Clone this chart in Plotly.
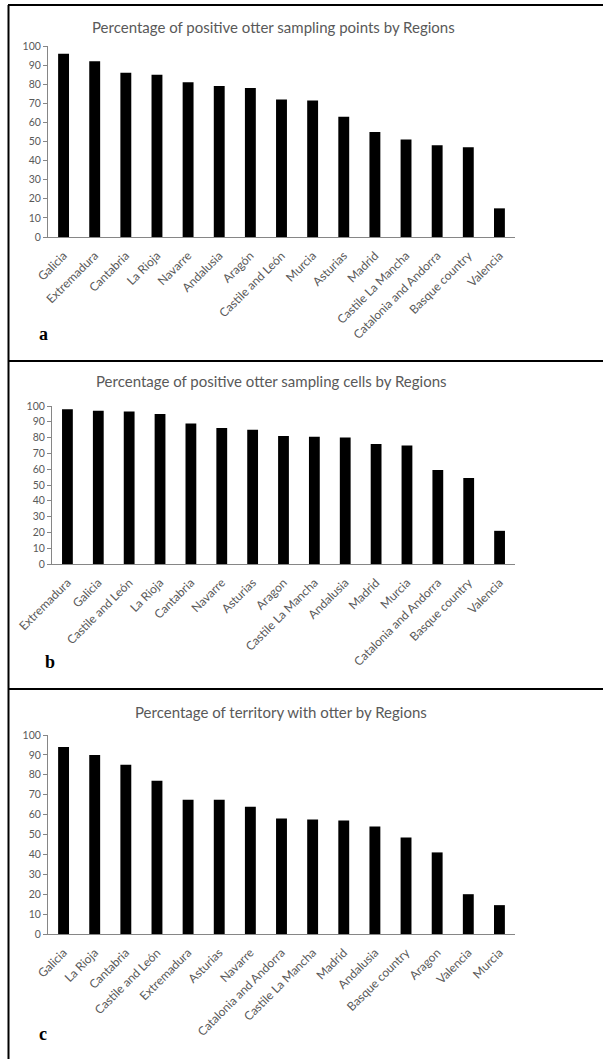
import plotly.graph_objects as go

W, H = 603, 1059

# Panel a: positive sampling points
regions_a = ["Galicia", "Extremadura", "Cantabria", "La Rioja", "Navarre", "Andalusia",
             "Aragón", "Castile and León", "Murcia", "Asturias", "Madrid",
             "Castile La Mancha", "Catalonia and Andorra", "Basque country", "Valencia"]
values_a = [96, 92, 86, 85, 81, 79, 78, 72, 71.5, 63, 55, 51, 48, 47, 15]

# Panel b: positive sampling cells
regions_b = ["Extremadura", "Galicia", "Castile and León", "La Rioja", "Cantabria", "Navarre",
             "Asturias", "Aragon", "Castile La Mancha", "Andalusia", "Madrid", "Murcia",
             "Catalonia and Andorra", "Basque country", "Valencia"]
values_b = [98, 97, 96.5, 95, 89, 86, 85, 81, 80.5, 80, 76, 75, 59.5, 54.5, 21]

# Panel c: territory with otter
regions_c = ["Galicia", "La Rioja", "Cantabria", "Castile and León", "Extremadura", "Asturias",
             "Navarre", "Catalonia and Andorra", "Castile La Mancha", "Madrid", "Andalusia",
             "Basque country", "Aragon", "Valencia", "Murcia"]
values_c = [94, 90, 85, 77, 67.5, 67.5, 64, 58, 57.5, 57, 54, 48.5, 41, 20, 14.5]

titles = ["Percentage of positive otter sampling points by Regions",
          "Percentage of positive otter sampling cells by Regions",
          "Percentage of territory with otter by Regions"]
letters = ["a", "b", "c"]
y_ticks = list(range(0, 101, 10))


def px_x(x):
    return x / W


def px_y(y):
    return 1 - y / H


# plot-area boxes in pixels: (left, right, top, bottom)
boxes = [(48, 515, 46, 237), (52, 515, 406, 564), (48, 515, 735, 934)]
title_pos = [(273, 27), (271, 381), (281, 712)]
letter_pos = [(43, 334), (50, 662), (43, 1034)]

fig = go.Figure()
layout = dict(width=W, height=H, margin=dict(l=0, r=0, t=0, b=0, autoexpand=False),
              paper_bgcolor="white", plot_bgcolor="white", showlegend=False,
              bargap=0.65)

axis_grey = "#868686"
text_grey = "#595959"

for i, (cats, vals) in enumerate([(regions_a, values_a), (regions_b, values_b),
                                  (regions_c, values_c)]):
    sfx = "" if i == 0 else str(i + 1)
    fig.add_trace(go.Bar(x=cats, y=vals, marker=dict(color="black", line=dict(width=0)),
                         xaxis="x" + sfx, yaxis="y" + sfx))
    l, r, t, b = boxes[i]
    layout["xaxis" + sfx] = dict(domain=[px_x(l), px_x(r)], anchor="y" + sfx,
                                 automargin=False, ticklabelstandoff=6,
                                 showline=True, linecolor=axis_grey, linewidth=1,
                                 ticks="", tickangle=-45, showgrid=False,
                                 tickfont=dict(family="Lato", size=12, color=text_grey))
    layout["yaxis" + sfx] = dict(domain=[px_y(b), px_y(t)], anchor="x" + sfx,
                                 automargin=False,
                                 range=[0, 100], tickvals=y_ticks,
                                 showline=True, linecolor=axis_grey, linewidth=1,
                                 ticks="outside", ticklen=4, tickcolor=axis_grey,
                                 showgrid=False, zeroline=False,
                                 tickfont=dict(family="Lato", size=10.5, color=text_grey))

annotations = []
for i in range(3):
    tx, ty = title_pos[i]
    annotations.append(dict(text=titles[i], x=px_x(tx), y=px_y(ty), xref="paper", yref="paper",
                            xanchor="center", yanchor="middle", showarrow=False,
                            font=dict(family="Lato", size=15, color=text_grey)))
    lx, ly = letter_pos[i]
    annotations.append(dict(text="<b>" + letters[i] + "</b>", x=px_x(lx), y=px_y(ly),
                            xref="paper", yref="paper", xanchor="center", yanchor="middle",
                            showarrow=False,
                            font=dict(family="Liberation Serif", size=18, color="black")))
layout["annotations"] = annotations

# frame lines around the panels
shapes = [dict(type="line", xref="paper", yref="paper", x0=px_x(8.5), x1=px_x(8.5),
               y0=px_y(5), y1=0, line=dict(color="black", width=2))]
for yy in [5, 361, 689]:
    shapes.append(dict(type="line", xref="paper", yref="paper", x0=px_x(8), x1=1,
                       y0=px_y(yy), y1=px_y(yy), line=dict(color="black", width=2)))
layout["shapes"] = shapes

fig.update_layout(**layout)
fig.write_html("out.html")
